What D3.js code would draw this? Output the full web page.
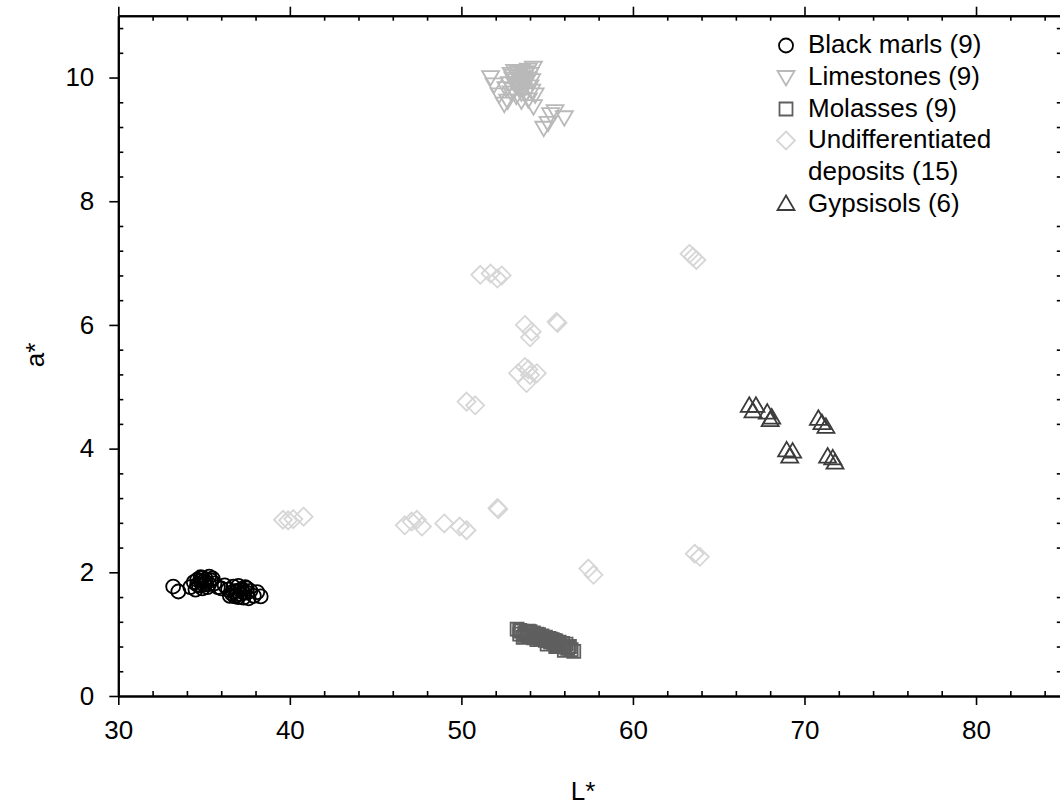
<!DOCTYPE html>
<html>
<head>
<meta charset="utf-8">
<script src="https://cdn.jsdelivr.net/npm/d3@7"></script>
<style>
  body { margin: 0; background: #fff; }
  text { font-family: "Liberation Sans", Arial, sans-serif; }
</style>
</head>
<body>
<svg id="chart" width="1060" height="807"></svg>
<script>
// [L*, a*] pairs
const blackMarls = [
  [33.2, 1.77], [33.5, 1.69], [34.2, 1.76], [34.4, 1.84], [34.5, 1.72], [34.6, 1.88],
  [34.7, 1.79], [34.8, 1.86], [34.9, 1.91], [35.0, 1.80], [35.1, 1.84], [35.2, 1.76],
  [35.3, 1.93], [35.4, 1.87], [35.5, 1.90], [35.6, 1.82], [35.8, 1.76], [36.0, 1.74],
  [36.2, 1.79], [36.4, 1.72], [36.6, 1.66], [36.7, 1.77], [36.8, 1.61], [36.9, 1.70],
  [37.0, 1.78], [37.1, 1.65], [37.2, 1.73], [37.3, 1.59], [37.4, 1.76], [37.5, 1.67],
  [37.6, 1.58], [37.7, 1.70], [37.9, 1.62], [38.1, 1.68], [38.3, 1.61], [36.5, 1.62],
  [34.6, 1.80], [34.9, 1.74], [35.1, 1.89], [35.3, 1.81], [35.0, 1.86], [34.8, 1.92],
  [36.9, 1.63], [37.1, 1.71], [37.3, 1.67], [37.0, 1.60], [37.5, 1.74], [36.7, 1.69]
];
const limestones = [
  [51.7, 10.0], [51.9, 9.88], [52.2, 9.72], [52.5, 9.57], [52.7, 9.62], [52.8, 9.9],
  [52.9, 10.05], [53.0, 9.8], [53.1, 10.1], [53.2, 9.95], [53.3, 10.02], [53.4, 9.85],
  [53.5, 10.1], [53.6, 9.92], [53.7, 10.05], [53.8, 9.75], [53.9, 10.12], [54.0, 10.05],
  [54.1, 9.95], [54.2, 10.15], [53.2, 9.7], [53.5, 9.62], [53.9, 9.64], [54.3, 9.72],
  [54.2, 9.53], [53.0, 9.98], [53.3, 9.88], [53.6, 10.0], [52.9, 9.75], [54.8, 9.18],
  [55.05, 9.26], [55.46, 9.45], [56.0, 9.35], [55.2, 9.4], [53.8, 10.08], [54.0, 9.85],
  [53.1, 9.9], [53.4, 9.96], [53.6, 9.8], [53.3, 10.08], [53.7, 9.9], [53.0, 10.02],
  [53.5, 9.75], [52.6, 9.82], [54.1, 9.78], [53.9, 9.98]
];
const molasses = [
  [53.25, 1.08], [53.4, 1.0], [53.5, 1.05], [53.7, 0.98], [53.8, 1.03], [53.9, 0.96],
  [54.0, 1.04], [54.1, 0.99], [54.2, 1.02], [54.3, 0.95], [54.5, 0.99], [54.6, 0.92],
  [54.7, 0.97], [54.8, 0.91], [54.9, 0.95], [55.0, 0.89], [55.1, 0.93], [55.2, 0.87],
  [55.3, 0.91], [55.4, 0.85], [55.5, 0.89], [55.6, 0.83], [55.7, 0.87], [55.8, 0.81],
  [55.9, 0.85], [56.0, 0.79], [56.1, 0.84], [56.2, 0.77], [56.4, 0.75], [56.55, 0.72],
  [54.4, 0.91], [55.0, 0.84], [55.5, 0.8], [56.0, 0.74], [54.2, 0.94], [53.6, 0.95],
  [53.4, 1.06], [53.7, 1.02], [53.9, 1.05], [54.0, 0.97], [54.4, 1.0], [54.6, 0.96],
  [54.9, 0.9], [55.2, 0.92], [55.4, 0.9], [55.7, 0.83], [55.9, 0.8], [56.3, 0.8]
];
const undifferentiated = [
  [39.6, 2.85], [39.9, 2.84], [40.2, 2.86], [40.8, 2.9],
  [46.7, 2.76], [47.1, 2.82], [47.4, 2.85], [47.7, 2.74],
  [49.0, 2.79], [49.9, 2.74], [50.3, 2.68],
  [52.1, 3.04], [52.15, 3.02],
  [50.3, 4.76], [50.8, 4.70],
  [51.1, 6.81], [51.7, 6.83], [52.1, 6.75], [52.35, 6.8],
  [53.7, 6.0], [54.1, 5.89], [54.0, 5.8],
  [55.55, 6.05], [55.6, 6.03],
  [53.3, 5.22], [53.7, 5.32], [54.0, 5.19], [54.4, 5.22], [53.8, 5.06], [53.9, 5.28],
  [57.4, 2.06], [57.7, 1.96],
  [63.3, 7.15], [63.5, 7.1], [63.7, 7.05],
  [63.6, 2.3], [63.9, 2.25]
];
const gypsisols = [
  [66.78, 4.70], [67.17, 4.70], [67.0, 4.61],
  [67.83, 4.59], [68.09, 4.51], [68.0, 4.47],
  [70.81, 4.49], [71.02, 4.42], [71.25, 4.36],
  [68.96, 3.98], [69.31, 3.96], [69.14, 3.88],
  [71.35, 3.88], [71.65, 3.85], [71.78, 3.78]
];

const legendLabels = ["Black marls (9)", "Limestones (9)", "Molasses (9)", ["Undifferentiated", "deposits (15)"], "Gypsisols (6)"];
const xMajor = [30, 40, 50, 60, 70, 80];
const yMajor = [0, 2, 4, 6, 8, 10];

// marker shapes
const shapes = {
  circle: "M7,0A7,7 0 1,1 -7,0A7,7 0 1,1 7,0Z",
  triDown: "M-8.5,-6.5L8.5,-6.5L0,8Z",
  square: "M-6.5,-6.5H6.5V6.5H-6.5Z",
  diamond: "M0,-9L9,0L0,9L-9,0Z",
  triUp: "M0,-8L8.5,6.5L-8.5,6.5Z"
};

const series = [
  { data: blackMarls, shape: "circle", color: "#000000" },
  { data: limestones, shape: "triDown", color: "#b9b9b9" },
  { data: molasses, shape: "square", color: "#5f5f5f" },
  { data: undifferentiated, shape: "diamond", color: "#d6d6d6" },
  { data: gypsisols, shape: "triUp", color: "#3c3c3c" }
];

const svg = d3.select("#chart");
const x = d3.scaleLinear().domain([30, 85]).range([118.3, 1061.8]);
const y = d3.scaleLinear().domain([0, 11]).range([696, 15.7]);

const xMinor = d3.range(30, 85.01, 2).filter(v => v % 10 !== 0);
const yMinor = d3.range(0, 11.01, 0.4).map(v => +v.toFixed(1)).filter(v => v % 2 !== 0);

function styleAxis(g) {
  g.selectAll("path.domain").attr("stroke", "#000").attr("stroke-width", 2);
  g.selectAll(".tick line").attr("stroke", "#000").attr("stroke-width", 1.6);
  g.selectAll(".tick text").attr("font-size", 26).attr("fill", "#000")
    .attr("font-family", "Liberation Sans, Arial, sans-serif");
}

// bottom
svg.append("g").attr("transform", `translate(0,${y(0)})`)
  .call(d3.axisBottom(x).tickValues(xMinor).tickSize(-5).tickSizeOuter(0).tickFormat(""))
  .call(styleAxis);
svg.append("g").attr("transform", `translate(0,${y(0)})`)
  .call(d3.axisBottom(x).tickValues(xMajor).tickSize(9).tickSizeOuter(0).tickPadding(16).tickFormat(d3.format("d")))
  .call(styleAxis);
// top
svg.append("g").attr("transform", `translate(0,${y(11)})`)
  .call(d3.axisTop(x).tickValues(xMinor).tickSize(-5).tickSizeOuter(0).tickFormat(""))
  .call(styleAxis);
svg.append("g").attr("transform", `translate(0,${y(11)})`)
  .call(d3.axisTop(x).tickValues(xMajor).tickSize(9).tickSizeOuter(0).tickFormat(""))
  .call(styleAxis);
// left
svg.append("g").attr("transform", `translate(${x(30)},0)`)
  .call(d3.axisLeft(y).tickValues(yMinor).tickSize(-5).tickSizeOuter(0).tickFormat(""))
  .call(styleAxis);
svg.append("g").attr("transform", `translate(${x(30)},0)`)
  .call(d3.axisLeft(y).tickValues(yMajor).tickSize(9).tickSizeOuter(0).tickPadding(15).tickFormat(d3.format("d")))
  .call(styleAxis);
// right
svg.append("g").attr("transform", `translate(${x(85)},0)`)
  .call(d3.axisRight(y).tickValues(yMinor).tickSize(-5).tickSizeOuter(0).tickFormat(""))
  .call(styleAxis);
svg.append("g").attr("transform", `translate(${x(85)},0)`)
  .call(d3.axisRight(y).tickValues(yMajor).tickSize(9).tickSizeOuter(0).tickFormat(""))
  .call(styleAxis);

// axis titles
svg.append("text").attr("x", 583).attr("y", 800).attr("text-anchor", "middle")
  .attr("font-size", 26).text("L*");
svg.append("text").attr("transform", "translate(44,355) rotate(-90)").attr("text-anchor", "middle")
  .attr("font-size", 26).text("a*");

// points
series.forEach(s => {
  svg.append("g").selectAll("path").data(s.data).join("path")
    .attr("d", shapes[s.shape])
    .attr("transform", d => `translate(${x(d[0])},${y(d[1])})`)
    .attr("fill", "none")
    .attr("stroke", s.color)
    .attr("stroke-width", 1.8);
});

// legend
const baselines = [53.3, 85, 116.7, 148.3, 211.7];
const symbolY = [45.5, 77.5, 109, 140.5, 203.5];
const legend = svg.append("g");
series.forEach((s, i) => {
  legend.append("path").attr("d", shapes[s.shape])
    .attr("transform", `translate(786,${symbolY[i]})`)
    .attr("fill", "none").attr("stroke", s.color).attr("stroke-width", 1.8);
  const lbl = legendLabels[i];
  const t = legend.append("text").attr("x", 808).attr("y", baselines[i]).attr("font-size", 26);
  if (Array.isArray(lbl)) {
    t.text(lbl[0]);
    legend.append("text").attr("x", 808).attr("y", baselines[i] + 31.7).attr("font-size", 26).text(lbl[1]);
  } else {
    t.text(lbl);
  }
});
</script>
</body>
</html>
